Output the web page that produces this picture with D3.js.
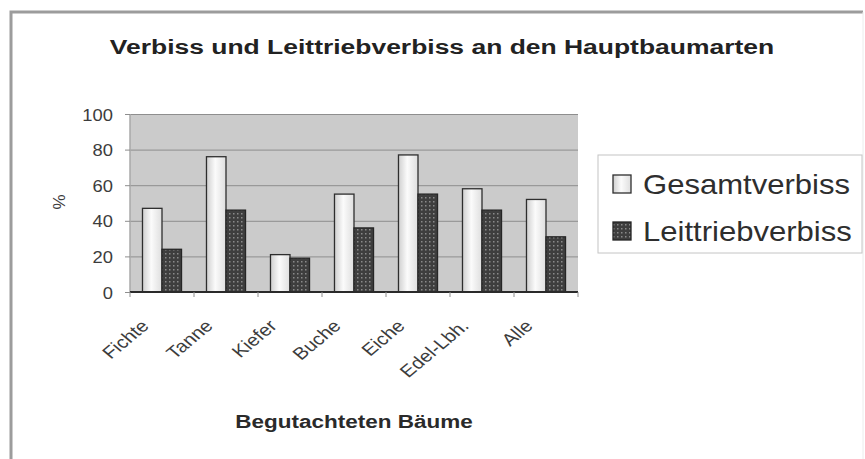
<!DOCTYPE html>
<html>
<head>
<meta charset="utf-8">
<script src="https://cdn.jsdelivr.net/npm/d3@7"></script>
<style>
  html, body { margin: 0; padding: 0; background: #fff; }
  svg { display: block; font-family: "Liberation Sans", Arial, sans-serif; }
</style>
</head>
<body>
<svg id="chart" width="865" height="459"></svg>
<script>
// Verbiss je Baumart (Prozent der begutachteten Bäume)
const categories = ["Fichte", "Tanne", "Kiefer", "Buche", "Eiche", "Edel-Lbh.", "Alle"];
const seriesNames = ["Gesamtverbiss", "Leittriebverbiss"];
const gesamtverbiss = [47, 76, 21, 55, 77, 58, 52];
const leittriebverbiss = [24, 46, 19, 36, 55, 46, 31];
const yTicks = [0, 20, 40, 60, 80, 100];

const titleText = "Verbiss und Leittriebverbiss an den Hauptbaumarten";
const xTitleText = "Begutachteten Bäume";
const yTitleText = "%";

const svg = d3.select("#chart");

// --- patterns and gradients for the two bar styles ---
const defs = svg.append("defs");
const grad = defs.append("linearGradient").attr("id", "lightFill")
  .attr("x1", "0%").attr("x2", "100%").attr("y1", "0%").attr("y2", "0%");
grad.append("stop").attr("offset", "0%").attr("stop-color", "#cfcfcf");
grad.append("stop").attr("offset", "45%").attr("stop-color", "#fbfbfb");
grad.append("stop").attr("offset", "100%").attr("stop-color", "#dedede");

const pat = defs.append("pattern").attr("id", "darkFill")
  .attr("width", 4).attr("height", 4).attr("patternUnits", "userSpaceOnUse");
pat.append("rect").attr("width", 4).attr("height", 4).attr("fill", "#3e3e3e");
pat.append("rect").attr("x", 1).attr("y", 1).attr("width", 1.5).attr("height", 1.5).attr("fill", "#8a8a8a");

// --- outer chart frame ---
svg.append("path")
  .attr("d", "M11,470 L11,12 L863,12")
  .attr("fill", "none").attr("stroke", "#9c9c9c").attr("stroke-width", 3);
svg.append("line")
  .attr("x1", 863).attr("x2", 863).attr("y1", 12).attr("y2", 459)
  .attr("stroke", "#ececec").attr("stroke-width", 1);

// --- plot area ---
const plot = { left: 130, right: 578, top: 114, bottom: 292 };

const x = d3.scaleBand()
  .domain(categories)
  .range([plot.left, plot.right])
  .paddingInner(0.39)
  .paddingOuter(0.195);

const xInner = d3.scaleBand()
  .domain(seriesNames)
  .range([0, x.bandwidth()]);

const y = d3.scaleLinear()
  .domain([0, 100])
  .range([plot.bottom, plot.top]);

svg.append("rect")
  .attr("x", plot.left).attr("y", plot.top)
  .attr("width", plot.right - plot.left).attr("height", plot.bottom - plot.top)
  .attr("fill", "#cbcbcb");

// gridlines
svg.append("g")
  .attr("transform", `translate(${plot.left},0)`)
  .call(d3.axisLeft(y).tickValues(yTicks.filter(v => v > 0)).tickSize(-(plot.right - plot.left)).tickFormat(""))
  .call(g => g.select(".domain").remove())
  .call(g => g.selectAll(".tick line").attr("stroke", "#8e8e8e").attr("stroke-width", 1));

// plot area left edge
svg.append("line")
  .attr("x1", plot.left).attr("x2", plot.left)
  .attr("y1", plot.top).attr("y2", plot.bottom)
  .attr("stroke", "#a8a8a8").attr("stroke-width", 1.5);

// y axis ticks and labels (text slightly widened)
const ySx = 1.08;
const yAxis = svg.append("g")
  .attr("transform", `translate(${plot.left},0)`)
  .call(d3.axisLeft(y).tickValues(yTicks).tickSize(5).tickPadding(0))
  .call(g => g.select(".domain").remove());
yAxis.selectAll(".tick line").attr("stroke", "#8e8e8e");
yAxis.selectAll(".tick text")
  .attr("x", null)
  .attr("dy", null)
  .attr("transform", `translate(-17,6) scale(${ySx},1)`)
  .attr("fill", "#3c3c3c")
  .style("font-size", "17px")
  .style("font-family", "'Liberation Sans', Arial, sans-serif");

// bars
const seriesData = [gesamtverbiss, leittriebverbiss];
const fills = ["url(#lightFill)", "url(#darkFill)"];
const strokes = ["#2e2e2e", "#262626"];

seriesNames.forEach((name, si) => {
  svg.append("g").selectAll("rect")
    .data(categories.map((c, i) => ({ c, v: seriesData[si][i] })))
    .join("rect")
    .attr("x", d => x(d.c) + xInner(name))
    .attr("y", d => y(d.v))
    .attr("width", xInner.bandwidth())
    .attr("height", d => y(0) - y(d.v))
    .attr("fill", fills[si])
    .attr("stroke", strokes[si])
    .attr("stroke-width", 1.3);
});

// x axis line and category boundary ticks
svg.append("line")
  .attr("x1", plot.left).attr("x2", plot.right)
  .attr("y1", plot.bottom).attr("y2", plot.bottom)
  .attr("stroke", "#2a2a2a").attr("stroke-width", 2);

const step = x.step();
const boundaries = d3.range(categories.length + 1)
  .map(i => (i < categories.length ? x(categories[i]) + x.bandwidth() / 2 - step / 2 : x(categories[i - 1]) + x.bandwidth() / 2 + step / 2));
svg.append("g").selectAll("line")
  .data(boundaries)
  .join("line")
  .attr("x1", d => d).attr("x2", d => d)
  .attr("y1", plot.bottom).attr("y2", plot.bottom + 5)
  .attr("stroke", "#8e8e8e");

// rotated category labels
const xSx = 1.2;
svg.append("g").selectAll("text")
  .data(categories)
  .join("text")
  .attr("transform", d => `translate(${x(d) + x.bandwidth() / 2 - 12},327) scale(${xSx},1) rotate(-45)`)
  .attr("text-anchor", "end")
  .attr("fill", "#3c3c3c")
  .style("font-size", "17px")
  .text(d => d);

// axis titles
svg.append("text")
  .attr("transform", `translate(354,428) scale(1.25,1)`)
  .attr("text-anchor", "middle")
  .attr("fill", "#2a2a2a")
  .style("font-size", "18px")
  .style("font-weight", "bold")
  .text(xTitleText);

svg.append("text")
  .attr("transform", `translate(65,202) rotate(-90)`)
  .attr("text-anchor", "middle")
  .attr("fill", "#3c3c3c")
  .style("font-size", "17px")
  .text(yTitleText);

// chart title
svg.append("text")
  .attr("transform", `translate(442,54) scale(1.26,1)`)
  .attr("text-anchor", "middle")
  .attr("fill", "#222")
  .style("font-size", "21px")
  .style("font-weight", "bold")
  .text(titleText);

// legend
const legend = svg.append("g");
legend.append("rect")
  .attr("x", 598).attr("y", 155).attr("width", 264).attr("height", 98)
  .attr("fill", "#fff").attr("stroke", "#c4c4c4").attr("stroke-width", 1);

const legendItems = legend.selectAll("g.item")
  .data(seriesNames)
  .join("g")
  .attr("class", "item")
  .attr("transform", (d, i) => `translate(0,${i * 47})`);

legendItems.append("rect")
  .attr("x", 613).attr("y", 175).attr("width", 18).attr("height", 18)
  .attr("fill", (d, i) => fills[i])
  .attr("stroke", (d, i) => strokes[i])
  .attr("stroke-width", 1.3);

legendItems.append("text")
  .attr("transform", "translate(643,194) scale(1.15,1)")
  .attr("fill", "#2e2e2e")
  .style("font-size", "27px")
  .text(d => d);
</script>
</body>
</html>
